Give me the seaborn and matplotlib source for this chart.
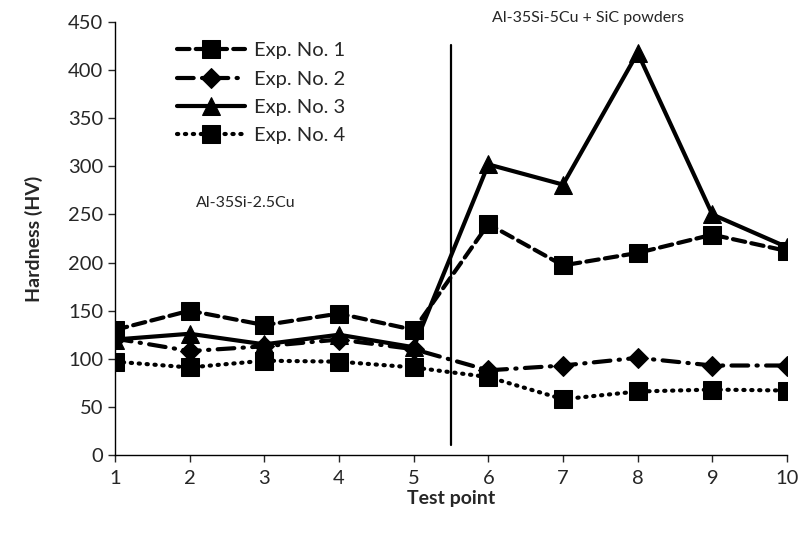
import numpy as np
import pandas as pd
import seaborn as sns
import matplotlib.pyplot as plt

sns.set_style('white')
plt.rcParams['font.family'] = ['Lato', 'DejaVu Sans']

# 데이터
test_point = [1, 2, 3, 4, 5, 6, 7, 8, 9, 10]
exp1 = [130, 150, 135, 147, 130, 240, 197, 210, 229, 212]
exp2 = [121, 108, 113, 120, 110, 88, 93, 101, 93, 93]
exp3 = [120, 126, 115, 125, 112, 302, 281, 418, 250, 216]
exp4 = [97, 91, 98, 97, 91, 81, 58, 66, 68, 67]
names = ['Exp. No. 1', 'Exp. No. 2', 'Exp. No. 3', 'Exp. No. 4']

df = pd.DataFrame({'Test point': test_point * 4,
                   'Hardness (HV)': exp1 + exp2 + exp3 + exp4,
                   'Exp': np.repeat(names, len(test_point))})

fig = plt.figure(figsize=(8.01, 5.41), dpi=100)
ax = fig.add_axes([115/801, 86/541, (787-115)/801, (455-22)/541])

sns.lineplot(data=df, x='Test point', y='Hardness (HV)', style='Exp', hue='Exp',
             palette=['black'] * 4,
             markers={'Exp. No. 1': 's', 'Exp. No. 2': 'D', 'Exp. No. 3': '^', 'Exp. No. 4': 's'},
             dashes={'Exp. No. 1': (3, 1.5), 'Exp. No. 2': (4, 2, 0.3, 2), 'Exp. No. 3': '', 'Exp. No. 4': (0.3, 1.6)},
             linewidth=3, markersize=13, markeredgecolor='black', dash_capstyle='round', ax=ax)

for l in ax.lines:
    if l.get_marker() == 'D':
        l.set_markersize(10.5)

ax.axvline(5.5, ymin=10/450, ymax=426/450, color='black', linewidth=1.6)

ax.set_xlim(1, 10)
ax.set_ylim(0, 450)
ax.set_xticks(test_point)
ax.set_yticks(range(0, 451, 50))
ax.tick_params(axis='both', labelsize=14.5, direction='out', length=5, width=1, left=True, bottom=True)
ax.tick_params(axis='x', pad=6)
ax.set_xlabel('Test point', fontsize=14, fontweight='bold', labelpad=2)
ax.set_ylabel('Hardness (HV)', fontsize=14, fontweight='bold', labelpad=18)
sns.despine(ax=ax)
for s in ['left', 'bottom']:
    ax.spines[s].set_color('black')
    ax.spines[s].set_linewidth(1)

ax.text(2.08, 262, 'Al-35Si-2.5Cu', fontsize=11.5, va='center')
ax.text(6.05, 454, 'Al-35Si-5Cu + SiC powders', fontsize=11.5, va='center', clip_on=False)

ax.legend(loc='upper left', bbox_to_anchor=(0.065, 0.995), frameon=False, fontsize=14.5,
          handlelength=3.4, labelspacing=0.55, handletextpad=0.45)

plt.savefig('out.png', dpi=100)
